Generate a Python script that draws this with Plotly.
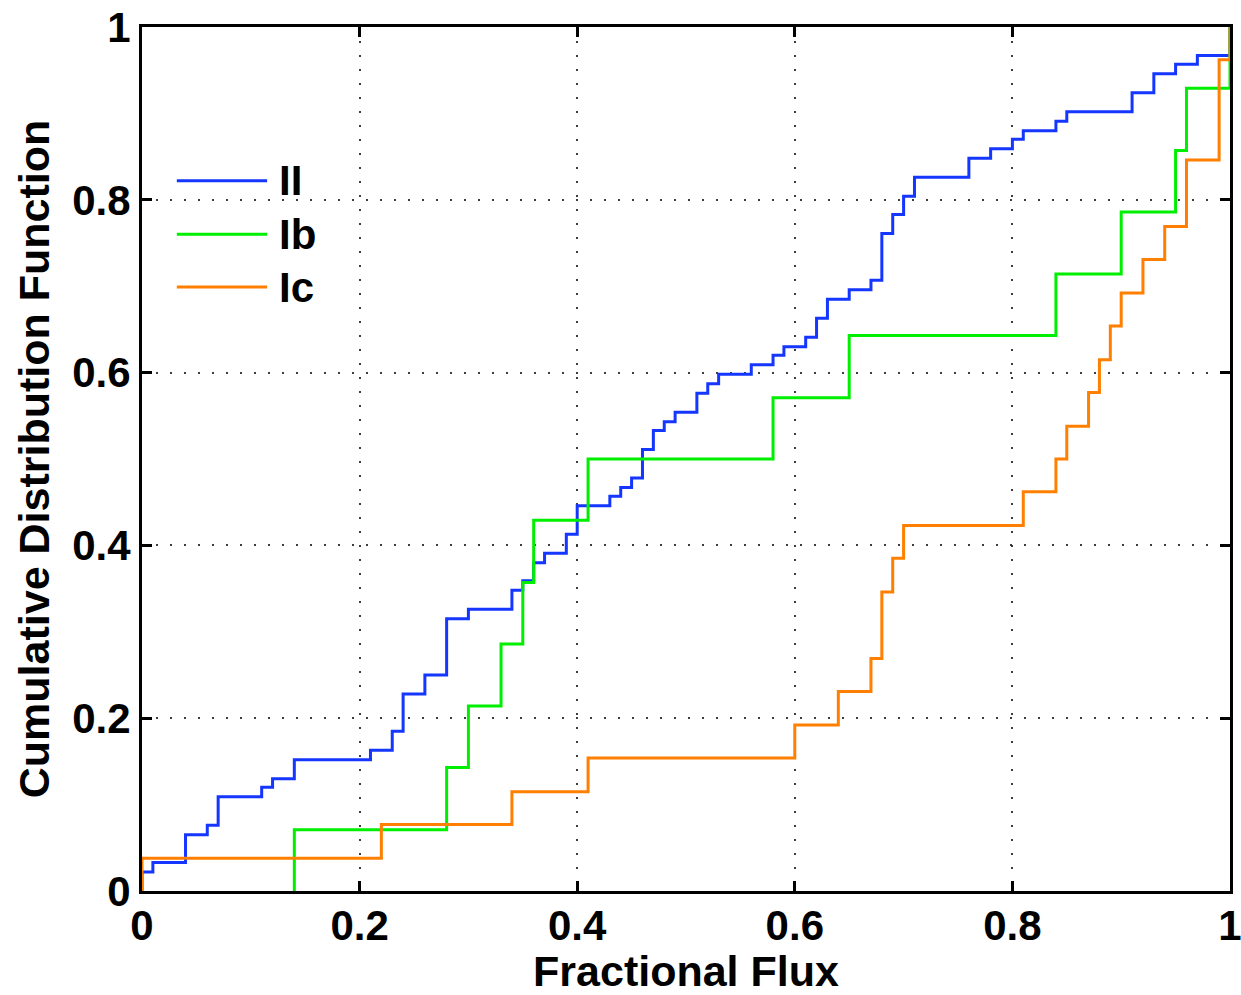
import plotly.graph_objects as go

# ---- data (step positions and CDF levels) ----
ii_x = [0.00, 0.00, 0.01, 0.04, 0.06, 0.07, 0.11, 0.12, 0.14, 0.21, 0.23, 0.24, 0.26,
        0.28, 0.30, 0.34, 0.35, 0.36, 0.37, 0.39, 0.40, 0.43, 0.44, 0.45, 0.46, 0.47,
        0.48, 0.49, 0.51, 0.52, 0.53, 0.56, 0.58, 0.59, 0.61, 0.62, 0.63, 0.65, 0.67,
        0.68, 0.69, 0.70, 0.71, 0.76, 0.78, 0.80, 0.81, 0.84, 0.85, 0.91, 0.93, 0.95,
        0.97, 1.00]
ii_y = [0.000, 0.022, 0.033, 0.065, 0.076, 0.109, 0.120, 0.130, 0.152, 0.163, 0.185,
        0.228, 0.250, 0.315, 0.326, 0.348, 0.359, 0.380, 0.391, 0.413, 0.446, 0.457,
        0.467, 0.478, 0.511, 0.533, 0.543, 0.554, 0.576, 0.587, 0.598, 0.609, 0.620,
        0.630, 0.641, 0.663, 0.685, 0.696, 0.707, 0.761, 0.783, 0.804, 0.826, 0.848,
        0.859, 0.870, 0.880, 0.891, 0.902, 0.924, 0.946, 0.957, 0.967, 1.000]

ib_x = [0.14, 0.14, 0.28, 0.30, 0.33, 0.35, 0.36, 0.41, 0.58, 0.65, 0.84, 0.90, 0.95,
        0.96, 1.00]
ib_y = [0.000, 0.071, 0.143, 0.214, 0.286, 0.357, 0.429, 0.500, 0.571, 0.643, 0.714,
        0.786, 0.857, 0.929, 1.000]

ic_x = [0.00, 0.00, 0.22, 0.34, 0.41, 0.60, 0.64, 0.67, 0.68, 0.69, 0.70, 0.81, 0.84,
        0.85, 0.87, 0.88, 0.89, 0.90, 0.92, 0.94, 0.96, 0.99, 1.00]
ic_y = [0.000, 0.038, 0.077, 0.115, 0.154, 0.192, 0.231, 0.269, 0.346, 0.385, 0.423,
        0.462, 0.500, 0.538, 0.577, 0.615, 0.654, 0.692, 0.731, 0.769, 0.846, 0.962,
        1.000]

series_names = ["II", "Ib", "Ic"]
series_colors = ["#1436ff", "#00ee00", "#ff7f00"]

tick_vals = [0, 0.2, 0.4, 0.6, 0.8, 1]
tick_text = ["0", "0.2", "0.4", "0.6", "0.8", "1"]

FONT = "Liberation Sans"
FS = 42

fig = go.Figure()
for name, xs, ys, col in zip(series_names, [ii_x, ib_x, ic_x], [ii_y, ib_y, ic_y], series_colors):
    fig.add_trace(go.Scatter(x=xs, y=ys, mode="lines", name=name,
                             line=dict(color=col, width=3, shape="hv"),
                             showlegend=False))

axis_common = dict(
    range=[0, 1], tickvals=tick_vals, ticktext=tick_text,
    showline=True, linecolor="black", linewidth=3, mirror="ticks",
    ticks="inside", ticklen=10, tickwidth=3, tickcolor="black",
    showgrid=True, gridcolor="rgba(40,40,40,0.9)", gridwidth=1.6,
    griddash="2px,12px", zeroline=False, automargin=False,
    ticklabeloverflow="allow",
    tickfont=dict(family=FONT, size=FS, color="black", weight="bold"),
)

fig.update_xaxes(**axis_common, ticklabelstandoff=-4,
                 title=dict(text="Fractional Flux", standoff=4,
                            font=dict(family=FONT, size=43, color="black", weight="bold")))
fig.update_yaxes(**axis_common,
                 title=dict(text="Cumulative Distribution Function", standoff=10,
                            font=dict(family=FONT, size=43, color="black", weight="bold")))

# manual legend (long line samples as in the reference)
leg_y = [0.822, 0.760, 0.699]
for name, col, yy in zip(series_names, series_colors, leg_y):
    fig.add_shape(type="line", xref="paper", yref="paper", x0=0.032, x1=0.115,
                  y0=yy, y1=yy, line=dict(color=col, width=3))
    fig.add_annotation(xref="paper", yref="paper", x=0.124, y=yy, text=name,
                       showarrow=False, xanchor="left", yanchor="middle",
                       font=dict(family=FONT, size=FS, color="black", weight="bold"))

fig.update_layout(
    width=1241, height=995,
    margin=dict(l=142, r=11, t=27, b=104),
    paper_bgcolor="white", plot_bgcolor="white",
    font=dict(family=FONT, color="black"),
)

fig.write_html("out.html")
